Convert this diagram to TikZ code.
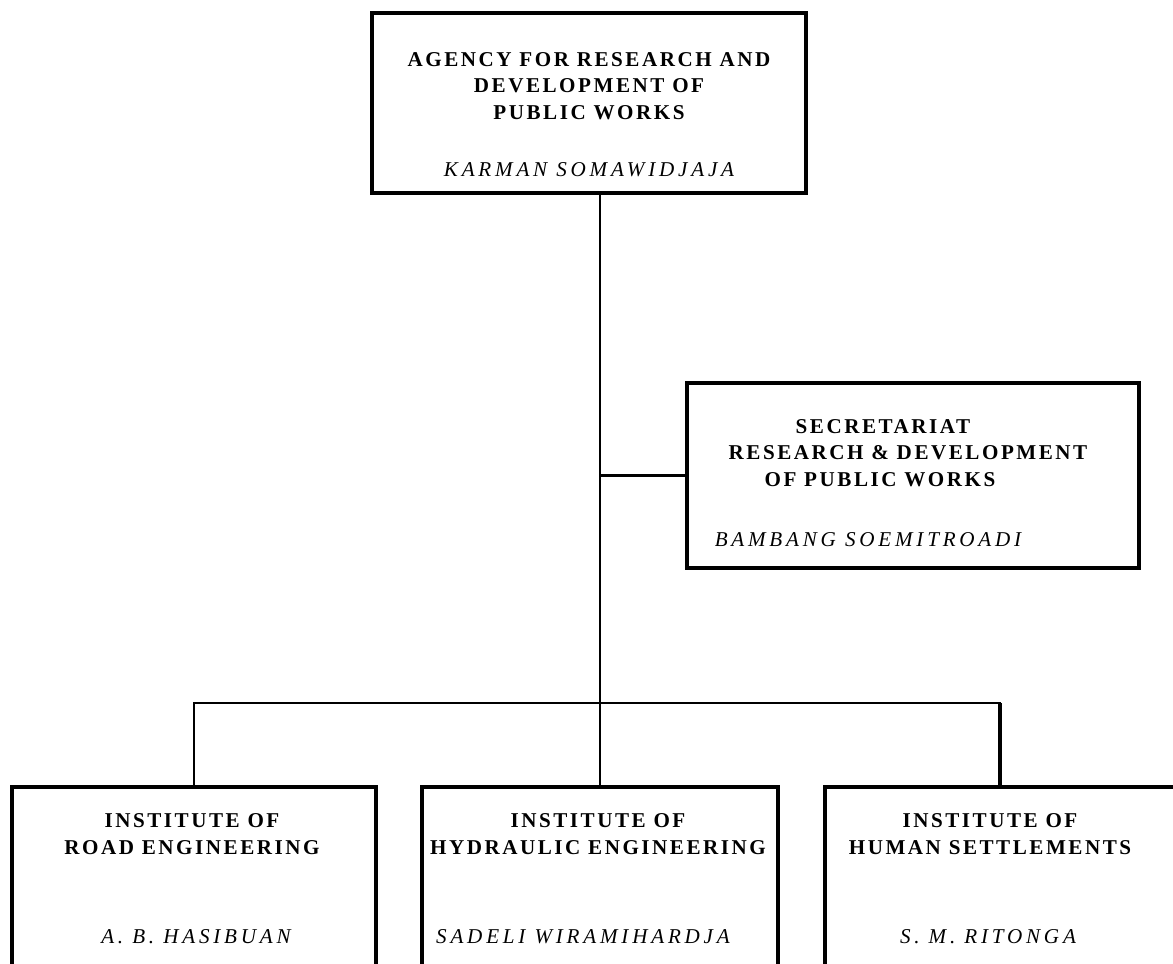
\documentclass[tikz,border=0pt]{standalone}
\usepackage{fontspec}
\setmainfont{Liberation Serif}
\usetikzlibrary{positioning}

\begin{document}
\begin{tikzpicture}[x=0.025cm, y=-0.025cm]
        \tikzstyle{unit} = [rectangle, draw, line width=2.4pt, inner sep=0pt]
        \tikzstyle{title} = [align=center, inner sep=0pt,
          font=\fontsize{15}{19}\selectfont\bfseries\addfontfeature{LetterSpace=12}]
        \tikzstyle{head} = [inner sep=0pt,
          font=\fontsize{15}{18}\selectfont\itshape\addfontfeature{LetterSpace=18}]
        \tikzstyle{link} = [line width=1.7pt]

        \useasboundingbox (0,0) rectangle (1173,963);

        % boxes
        \node[unit, minimum width=10.85cm, minimum height=4.5cm] (agency) at (589,103) {};
        \node[unit, minimum width=11.3cm, minimum height=4.625cm] (secretariat) at (913,475.5) {};
        \node[unit, minimum width=9.1cm, minimum height=4.7cm] (road) at (194,881) {};
        \node[unit, minimum width=8.9cm, minimum height=4.7cm] (hydraulic) at (600,881) {};
        \node[unit, minimum width=8.75cm, minimum height=4.7cm] (human) at (1000,881) {};

        % texts
        \node[title] (agencytitle) at (589,86) {AGENCY FOR RESEARCH AND\\DEVELOPMENT OF\\PUBLIC WORKS};
        \node[head] (agencyhead) at (589,170) {KARMAN SOMAWIDJAJA};
        \node[title] (secretariattitle) at (908,453)
          {SECRETARIAT\hspace*{1.25cm}\\RESEARCH \& DEVELOPMENT\\OF PUBLIC WORKS\hspace*{1.4cm}};
        \node[head] (secretariathead) at (868,540) {BAMBANG SOEMITROADI};
        \node[title] (roadtitle) at (192,834) {INSTITUTE OF\\ROAD ENGINEERING};
        \node[head] (roadhead) at (196,937) {A.\ B.\ HASIBUAN};
        \node[title] (hydraulictitle) at (598,834) {INSTITUTE OF\\HYDRAULIC ENGINEERING};
        \node[head] (hydraulichead) at (583,937) {SADELI WIRAMIHARDJA};
        \node[title] (humantitle) at (990,834) {INSTITUTE OF\\HUMAN SETTLEMENTS};
        \node[head] (humanhead) at (988,937) {S.\ M.\ RITONGA};

        % lines
        \coordinate (bus) at (600,703);
        \draw[link] (agency.south -| hydraulic.north) -- (hydraulic.north);
        \draw[link] (secretariat.west) -- (secretariat.west -| hydraulic.north);
        \draw[link] (road.north) |- (bus) -| (human.north);
        \draw[link, line width=3pt] (human.north) -- (human.north |- bus);
\end{tikzpicture}
\end{document}
